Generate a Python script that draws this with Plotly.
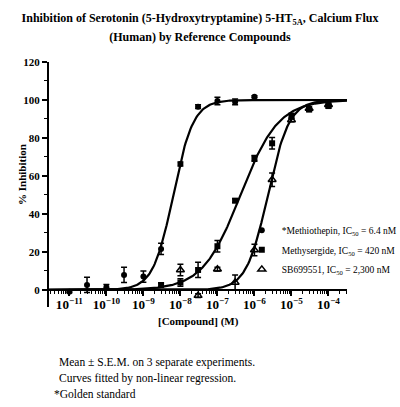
import numpy as np
import plotly.graph_objects as go

# concentrations (M) and mean % inhibition
conc_meth = [1e-11, 3e-11, 1e-10, 3e-10, 1e-9, 3e-9, 1e-8, 3e-8, 1e-7, 3e-7, 1e-6]
resp_meth = [-1.0, 2.6, 1.4, 7.9, 7.0, 21.6, 66.3, 96.5, 99.5, 99.0, 101.7]
sem_meth = [0.5, 4.0, 1.5, 4.0, 3.0, 3.0, 1.0, 1.0, 2.0, 1.5, 0.5]

conc_msg = [3e-9, 1e-8, 3e-8, 1e-7, 3e-7, 1e-6, 3e-6, 1e-5, 3e-5, 1e-4]
resp_msg = [2.6, 3.9, 10.5, 23.0, 47.0, 69.3, 77.2, 91.5, 95.0, 96.8]
sem_msg = [1.0, 2.0, 4.0, 3.0, 1.0, 1.5, 3.0, 1.5, 1.0, 1.0]

conc_sb = [1e-8, 3e-8, 1e-7, 3e-7, 1e-6, 3e-6, 1e-5, 3e-5, 1e-4]
resp_sb = [10.5, -3.0, 10.9, 3.9, 21.0, 58.0, 89.5, 95.5, 97.5]
sem_sb = [3.0, 1.0, 1.0, 4.0, 3.0, 3.5, 1.0, 1.0, 1.0]

# fitted curve parameters (IC50 from the legend, slopes estimated)
ic50 = {"meth": 6.4e-9, "msg": 420e-9, "sb": 2300e-9}
hill = {"meth": 1.6, "msg": 0.85, "sb": 1.5}
top = 100.0

names = {
    "meth": "*Methiothepin, IC<sub>50</sub> = 6.4 nM",
    "msg": "Methysergide, IC<sub>50</sub> = 420 nM",
    "sb": "SB699551, IC<sub>50</sub> = 2,300 nM",
}

title_lines = [
    "Inhibition of Serotonin (5-Hydroxytryptamine) 5-HT<sub>5A</sub>, Calcium Flux",
    "(Human) by Reference Compounds",
]

SERIF = "Liberation Serif, Times New Roman, serif"
BLACK = "#000000"

x_fit = np.logspace(-11.55, -3.5, 300)


def logistic(x, key):
    return top / (1 + (ic50[key] / x) ** hill[key])


fig = go.Figure()

for key in ["meth", "msg", "sb"]:
    fig.add_trace(go.Scatter(
        x=x_fit, y=logistic(x_fit, key), mode="lines",
        line=dict(color=BLACK, width=2.2), showlegend=False, hoverinfo="skip",
    ))

series = [
    ("meth", conc_meth, resp_meth, sem_meth, dict(symbol="circle", size=6, color=BLACK)),
    ("msg", conc_msg, resp_msg, sem_msg, dict(symbol="square", size=6, color=BLACK)),
    ("sb", conc_sb, resp_sb, sem_sb,
     dict(symbol="triangle-up-open", size=7, color=BLACK, line=dict(width=1.5, color=BLACK))),
]
for key, xs, ys, es, mk in series:
    fig.add_trace(go.Scatter(
        x=xs, y=ys, mode="markers", name=names[key], marker=mk, legendgroup=key,
        error_y=dict(type="data", array=es, visible=True, color=BLACK, thickness=1.5, width=3),
    ))

# larger base size gives the taller line spacing of the original, inner span keeps the width
title_text = "<br>".join(f"<span style='font-size:12px'><b>{t}</b></span>" for t in title_lines)

fig.update_layout(
    width=400, height=407,
    margin=dict(l=49, r=53, t=62, b=100, autoexpand=False),
    paper_bgcolor="white", plot_bgcolor="white",
    font=dict(family=SERIF, size=11, color=BLACK),
    title=dict(
        text=title_text,
        x=0.5, xanchor="center", y=0.945, yanchor="top",
        font=dict(family=SERIF, size=14, color=BLACK),
    ),
    legend=dict(
        x=0.647, y=0.372, xanchor="left", yanchor="top",
        bgcolor="rgba(0,0,0,0)", font=dict(family=SERIF, size=9.5),
        tracegroupgap=0.5, itemwidth=30,
    ),
    showlegend=True,
)

fig.update_xaxes(
    type="log", range=[-11.55, -3.5],
    anchor="free", position=9 / 129, automargin=False,
    showline=True, linecolor=BLACK, linewidth=2,
    showgrid=False, zeroline=False,
    ticks="outside", ticklen=5, tickwidth=1.5, tickcolor=BLACK,
    dtick=1, exponentformat="power", showexponent="all", tickangle=0,
    ticklabelstandoff=-2,
    tickfont=dict(family=SERIF, size=10.5, weight="bold"),
    minor=dict(dtick="D1", ticks="outside", ticklen=3, tickwidth=1, tickcolor=BLACK, showgrid=False),
)
fig.update_yaxes(
    range=[-9, 120], automargin=False,
    showline=True, linecolor=BLACK, linewidth=2,
    showgrid=False, zeroline=False,
    ticks="outside", ticklen=5, tickwidth=1.5, tickcolor=BLACK,
    tick0=0, dtick=20,
    tickfont=dict(family=SERIF, size=11, weight="bold"),
    minor=dict(tick0=0, dtick=10, ticks="outside", ticklen=3, tickwidth=1, tickcolor=BLACK, showgrid=False),
)

fig.add_annotation(
    text="<b>[Compound] (M)</b>", xref="paper", yref="paper",
    x=0.5, y=(307 - 321) / 245, showarrow=False, yanchor="middle",
    font=dict(family=SERIF, size=11),
)
fig.add_annotation(
    text="<b>% Inhibition</b>", xref="paper", yref="paper",
    x=(22 - 49) / 298, y=(307 - 175) / 245, showarrow=False,
    xanchor="center", yanchor="middle",
    textangle=-90, font=dict(family=SERIF, size=11),
)

notes = [
    (57, 362, "Mean ± S.E.M. on 3 separate experiments."),
    (57, 378, "Curves fitted by non-linear regression."),
    (52, 394, "*Golden standard"),
]
for px_, py_, txt in notes:
    fig.add_annotation(
        text=txt, xref="paper", yref="paper",
        x=(px_ - 49) / 298, y=(307 - py_) / 245,
        xanchor="left", yanchor="middle", showarrow=False,
        font=dict(family=SERIF, size=11.5),
    )

# page body has an 8px default margin; remove it so the figure fills the window
fig.write_html(
    "out.html",
    config={"displayModeBar": False},
    post_script="document.body.style.margin='0';",
)
